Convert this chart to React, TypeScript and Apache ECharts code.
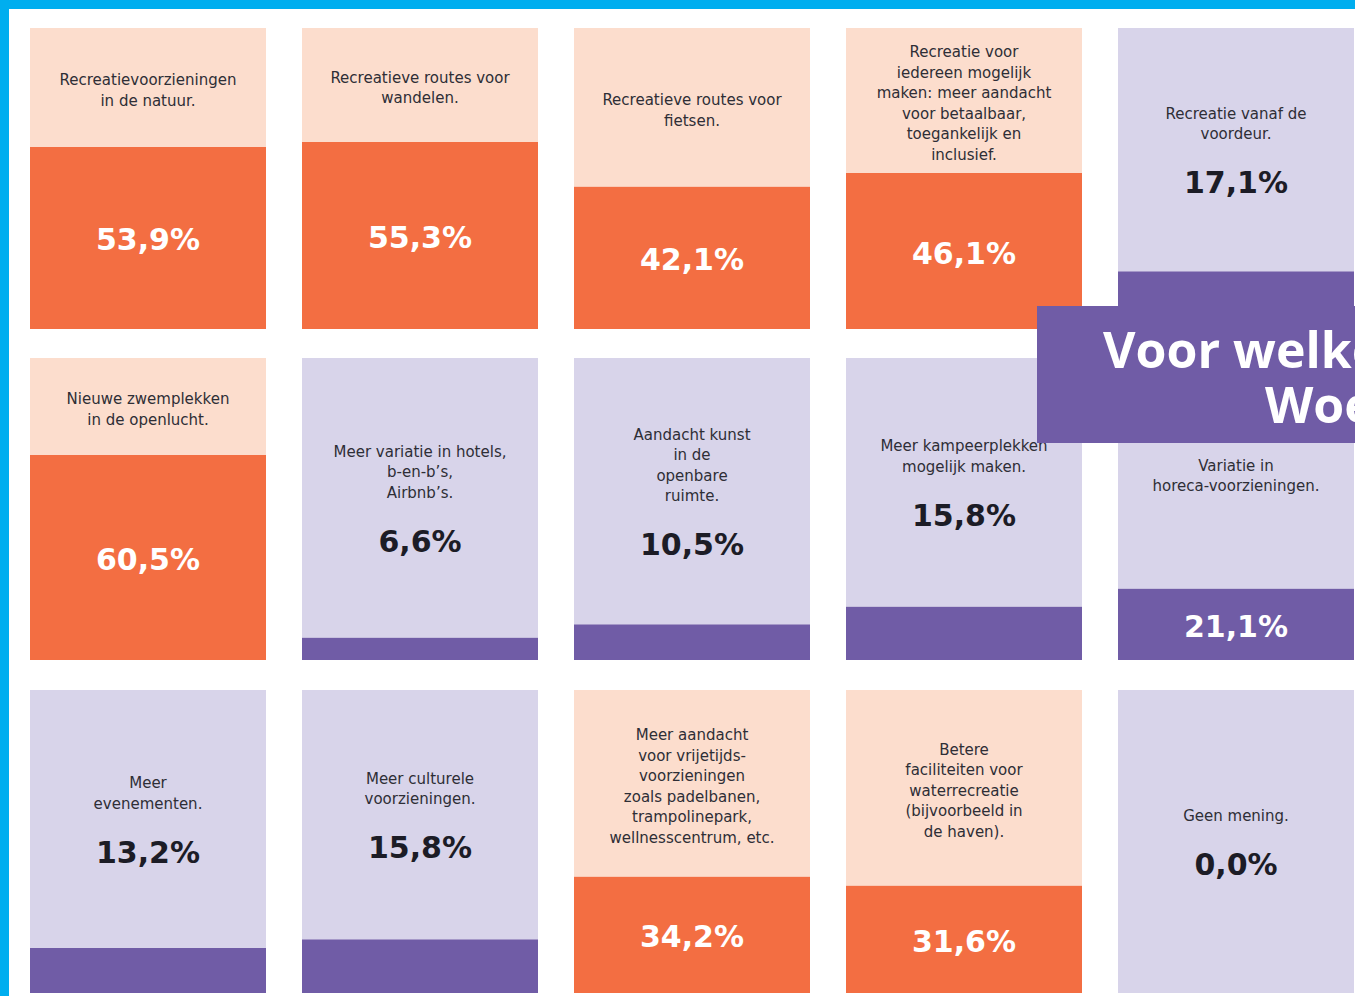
import React, { useEffect, useRef } from 'react';
import * as echarts from 'echarts';

// ---- data ----
const CATEGORIES: string[] = [
  'Recreatievoorzieningen\nin de natuur.',
  'Recreatieve routes voor\nwandelen.',
  'Recreatieve routes voor\nfietsen.',
  'Recreatie voor\niedereen mogelijk\nmaken: meer aandacht\nvoor betaalbaar,\ntoegankelijk en\ninclusief.',
  'Recreatie vanaf de\nvoordeur.',
  'Nieuwe zwemplekken\nin de openlucht.',
  'Meer variatie in hotels,\nb-en-b\u2019s,\nAirbnb\u2019s.',
  'Aandacht kunst\nin de\nopenbare\nruimte.',
  'Meer kampeerplekken\nmogelijk maken.',
  'Variatie in\nhoreca-voorzieningen.',
  'Meer\nevenementen.',
  'Meer culturele\nvoorzieningen.',
  'Meer aandacht\nvoor vrijetijds-\nvoorzieningen\nzoals padelbanen,\ntrampolinepark,\nwellnesscentrum, etc.',
  'Betere\nfaciliteiten voor\nwaterrecreatie\n(bijvoorbeeld in\nde haven).',
  'Geen mening.',
];
const VALUES: number[] = [53.9, 55.3, 42.1, 46.1, 17.1, 60.5, 6.6, 10.5, 15.8, 21.1, 13.2, 15.8, 34.2, 31.6, 0.0];
const TITLE_LINES: string[] = ['Voor welke', 'Woe'];
const COLUMNS = 5;
const SCALE_MAX = 89;
const HIGH_THRESHOLD = 30; // orange cards
const INSIDE_THRESHOLD = 20; // percentage drawn inside the filled part

// ---- styles ----
const ORANGE = '#F36E42';
const PEACH = '#FCDDCD';
const PURPLE = '#705CA6';
const LAVENDER = '#D8D4EA';
const BLUE = '#00AEEF';
const DESC_COLOR = '#2e2e36';
const PCT_DARK = '#1c1c26';

const fmt = (v: number) => v.toFixed(1).replace('.', ',') + '%';

export default function App() {
  const ref = useRef<HTMLDivElement>(null);

  useEffect(() => {
    if (!ref.current) return;
    const chart = echarts.init(ref.current, null, { renderer: 'svg' });

    const rowTops = [28, 358, 690];
    const rowHeights = [301, 302, 303];
    const grid: any[] = [];
    const xAxis: any[] = [];
    const yAxis: any[] = [];
    const series: any[] = [];

    for (let r = 0; r < rowTops.length; r++) {
      const cats = CATEGORIES.slice(r * COLUMNS, (r + 1) * COLUMNS);
      const vals = VALUES.slice(r * COLUMNS, (r + 1) * COLUMNS);
      grid.push({
        left: 12,
        top: rowTops[r],
        width: 1360,
        height: rowHeights[r],
        outerBoundsMode: 'none',
        containLabel: false,
      });
      xAxis.push({ type: 'category', gridIndex: r, data: cats, show: false });
      yAxis.push({ type: 'value', gridIndex: r, min: 0, max: SCALE_MAX, show: false, splitLine: { show: false } });

      series.push({
        type: 'bar',
        name: 'fill' + r,
        xAxisIndex: r,
        yAxisIndex: r,
        stack: 'card' + r,
        barWidth: 236,
        silent: true,
        data: vals.map((v) => ({ value: v, itemStyle: { color: v >= HIGH_THRESHOLD ? ORANGE : PURPLE } })),
        label: {
          show: true,
          position: 'inside',
          offset: [0, 2],
          formatter: (p: any) => (p.value >= INSIDE_THRESHOLD ? fmt(p.value) : ''),
          color: '#ffffff',
          fontFamily: 'DejaVu Sans',
          fontWeight: 'bold',
          fontSize: 30,
        },
      });

      series.push({
        type: 'bar',
        name: 'rest' + r,
        xAxisIndex: r,
        yAxisIndex: r,
        stack: 'card' + r,
        barWidth: 236,
        silent: true,
        data: vals.map((v) => ({ value: SCALE_MAX - v, itemStyle: { color: v >= HIGH_THRESHOLD ? PEACH : LAVENDER } })),
        label: {
          show: true,
          position: 'inside',
          align: 'center',
          offset: [0, 3],
          formatter: (p: any) => {
            const v = vals[p.dataIndex];
            const desc = cats[p.dataIndex]
              .split('\n')
              .map((l) => `{d|${l}}`)
              .join('\n');
            return v >= INSIDE_THRESHOLD ? desc : `${desc}\n{s| }\n{p|${fmt(v)}}`;
          },
          rich: {
            d: { fontFamily: 'DejaVu Sans', fontSize: 15, lineHeight: 20.5, color: DESC_COLOR, align: 'center' },
            s: { fontSize: 10, lineHeight: 19, align: 'center' },
            p: { fontFamily: 'DejaVu Sans', fontWeight: 'bold', fontSize: 30, lineHeight: 38, color: PCT_DARK, align: 'center' },
          },
        },
      });
    }

    chart.setOption({
      animation: false,
      backgroundColor: '#ffffff',
      grid,
      xAxis,
      yAxis,
      series,
      graphic: [
        { type: 'rect', z: 100, shape: { x: 0, y: 0, width: 1355, height: 9 }, style: { fill: BLUE } },
        { type: 'rect', z: 100, shape: { x: 0, y: 0, width: 9, height: 996 }, style: { fill: BLUE } },
        { type: 'rect', z: 100, shape: { x: 1037, y: 306, width: 330, height: 137 }, style: { fill: PURPLE } },
        {
          type: 'text',
          z: 101,
          x: 1103,
          y: 349,
          style: { text: TITLE_LINES[0], fill: '#ffffff', fontFamily: 'Open Sans', fontWeight: 'bold', fontSize: 50, verticalAlign: 'middle', align: 'left' },
        },
        {
          type: 'text',
          z: 101,
          x: 1265,
          y: 404,
          style: { text: TITLE_LINES[1], fill: '#ffffff', fontFamily: 'Open Sans', fontWeight: 'bold', fontSize: 50, verticalAlign: 'middle', align: 'left' },
        },
      ],
    });

    return () => chart.dispose();
  }, []);

  return <div ref={ref} style={{ position: 'absolute', left: 0, top: 0, width: 1355, height: 996 }} />;
}
